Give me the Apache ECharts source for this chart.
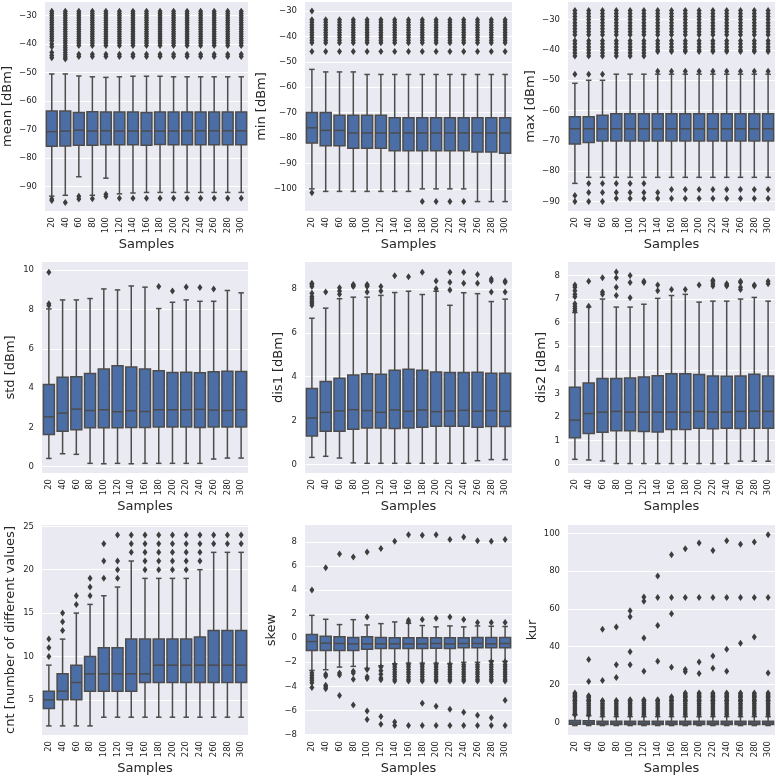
<!DOCTYPE html>
<html>
<head>
<meta charset="utf-8">
<script src="https://cdn.jsdelivr.net/npm/echarts@6/dist/echarts.min.js"></script>
<style>
html,body{margin:0;padding:0;background:#fff;}
#c{width:776px;height:776px;}
</style>
</head>
<body>
<div id="c"></div>
<script>
// ---------- categories ----------
const categories = ['20','40','60','80','100','120','140','160','180','200','220','240','260','280','300'];

// ---------- box stats: [lowerWhisker, Q1, median, Q3, upperWhisker] ----------
const meanBox = [
  [-93.3,-75.8,-70.7,-63.5,-50.5],[-93.0,-75.7,-70.5,-63.5,-50.5],[-86.5,-75.5,-70.2,-64.0,-51.2],
  [-93.0,-75.5,-70.5,-63.7,-51.5],[-87.0,-75.3,-70.4,-63.8,-51.7],[-92.5,-75.3,-70.5,-63.8,-51.5],
  [-92.2,-75.3,-70.5,-63.8,-51.3],[-92.0,-75.5,-70.5,-64.0,-51.3],[-92.0,-75.2,-70.5,-63.8,-51.3],
  [-92.0,-75.3,-70.5,-63.8,-51.5],[-92.0,-75.3,-70.4,-63.8,-51.5],[-92.0,-75.3,-70.4,-63.8,-51.5],
  [-92.0,-75.3,-70.4,-63.8,-51.5],[-92.0,-75.3,-70.4,-63.8,-51.5],[-92.0,-75.3,-70.4,-63.8,-51.5]
];
const minBox = [
  [-100,-82,-76,-70,-53],[-101,-83,-77,-70,-54],[-101,-83,-77,-71,-54],[-101,-84,-78,-71,-54],
  [-101,-84,-78,-71,-55],[-101,-84,-78,-71,-55],[-101,-85,-78,-72,-55],[-101,-85,-78,-72,-55],
  [-100,-85,-78,-72,-55],[-100,-85,-78,-72,-55],[-100,-85,-78,-72,-55],[-100,-85,-78,-72,-55],
  [-105,-85.5,-78,-72,-55],[-105,-85.5,-78,-72,-55],[-105,-86,-78,-72,-55]
];
const maxBox = [
  [-84,-71,-66,-62,-51],[-82,-70.5,-66,-62,-50],[-82,-70,-66,-61.5,-50],[-82,-70,-66,-61,-48],
  [-82,-70,-66,-61,-48],[-82,-70,-66,-61,-48],[-82,-70,-66,-61,-48],[-82,-70,-66,-61,-48],
  [-82,-70,-66,-61,-48],[-82,-70,-66,-61,-48],[-82,-70,-66,-61,-48],[-82,-70,-66,-61,-48],
  [-82,-70,-66,-61,-48],[-82,-70,-66,-61,-48],[-82,-70,-66,-61,-48]
];
const stdBox = [
  [0.42,1.64,2.54,4.19,8.03],[0.66,1.81,2.73,4.56,8.49],[0.63,1.88,2.93,4.58,8.49],[0.17,1.98,2.86,4.75,8.56],
  [0.15,1.98,2.90,4.97,9.05],[0.17,1.98,2.80,5.14,9.00],[0.15,2.00,2.85,5.07,9.20],[0.17,2.00,2.81,4.97,9.14],
  [0.17,2.02,2.90,4.88,8.05],[0.17,2.02,2.90,4.80,8.37],[0.17,2.02,2.90,4.81,8.49],[0.17,2.00,2.92,4.78,8.42],
  [0.39,2.02,2.88,4.83,8.42],[0.44,2.02,2.86,4.86,8.97],[0.44,2.02,2.90,4.85,8.85]
];
const dis1Box = [
  [0.33,1.30,2.12,3.47,6.66],[0.38,1.52,2.38,3.78,7.12],[0.30,1.52,2.45,3.93,7.55],[0.08,1.61,2.50,4.08,7.62],
  [0.06,1.67,2.46,4.13,7.62],[0.06,1.67,2.38,4.11,7.70],[0.06,1.64,2.49,4.29,7.83],[0.06,1.67,2.43,4.34,7.89],
  [0.06,1.70,2.49,4.29,7.74],[0.06,1.75,2.41,4.22,7.89],[0.06,1.75,2.44,4.19,7.25],[0.06,1.75,2.47,4.19,7.82],
  [0.18,1.70,2.43,4.20,7.78],[0.23,1.73,2.46,4.16,7.42],[0.23,1.73,2.43,4.16,7.53]
];
const dis2Box = [
  [0.21,1.12,1.87,3.26,6.43],[0.18,1.30,2.15,3.44,6.66],[0.14,1.36,2.21,3.63,7.00],[0.03,1.42,2.24,3.63,6.66],
  [0.03,1.42,2.21,3.65,6.66],[0.03,1.39,2.21,3.70,6.78],[0.03,1.37,2.21,3.75,7.03],[0.03,1.47,2.21,3.84,7.15],
  [0.03,1.47,2.21,3.84,7.20],[0.03,1.53,2.24,3.80,6.87],[0.03,1.50,2.21,3.74,6.91],[0.03,1.53,2.21,3.73,6.91],
  [0.13,1.52,2.24,3.74,7.00],[0.13,1.53,2.25,3.81,7.07],[0.13,1.53,2.24,3.74,6.91]
];
const cntBox = [
  [2,4,5,6,9],[2,5,6,8,12],[2,5,7,9,15],[2,6,8,10,16],[3,6,8,11,17],[3,6,8,11,18],[3,6,8,12,21],
  [3,7,8,12,19],[3,7,9,12,19],[3,7,9,12,19],[3,7,9,12,19],[3,7,9,12.25,20],[3,7,9,13,22],[3,7,9,13,22],[3,7,9,13,22]
];
const skewBox = [
  [-2.68,-1.02,-0.28,0.30,1.90],[-2.62,-1.02,-0.41,0.17,1.57],[-2.40,-1.02,-0.44,0.11,1.13],[-2.34,-1.02,-0.47,0.06,1.54],
  [-2.50,-0.91,-0.47,0.11,1.10],[-2.29,-0.86,-0.47,0.06,1.21],[-2.12,-0.86,-0.47,0.03,1.35],[-2.07,-0.86,-0.47,0.03,1.24],
  [-2.07,-0.86,-0.47,0.03,1.05],[-2.07,-0.83,-0.44,0.03,0.94],[-2.10,-0.86,-0.47,0.03,1.02],[-2.01,-0.80,-0.44,0.03,0.94],
  [-2.01,-0.80,-0.44,0.06,1.02],[-1.88,-0.80,-0.47,0.06,0.99],[-1.93,-0.80,-0.44,0.06,0.97]
];
const kurBox = [
  [-1.7,-1.0,-0.1,1.0,4.0],[-1.7,-1.0,-0.2,0.8,3.5],[-1.7,-1.1,-0.4,0.6,3.0],[-1.7,-1.1,-0.4,0.6,3.0],
  [-1.7,-1.1,-0.4,0.6,3.0],[-1.7,-1.1,-0.4,0.6,3.0],[-1.7,-1.1,-0.4,0.6,3.0],[-1.7,-1.1,-0.4,0.6,3.0],
  [-1.7,-1.1,-0.4,0.6,3.0],[-1.7,-1.1,-0.4,0.6,3.0],[-1.7,-1.1,-0.4,0.6,3.0],[-1.7,-1.1,-0.4,0.6,3.0],
  [-1.7,-1.1,-0.4,0.6,3.0],[-1.7,-1.1,-0.4,0.6,3.0],[-1.7,-1.1,-0.4,0.6,3.0]
];

// ---------- outliers (fliers) ----------
const meanTop20 = [-28.5,-29.3,-30.1,-30.9,-31.7,-32.5,-33.3,-34.1,-34.9,-35.7,-36.5,-37.3,-38.1,-38.9,-40.0,-41.0,-43.0,-44.0,-44.8];
const meanTop40 = [-28.5,-29.3,-30.1,-30.9,-31.7,-32.5,-33.3,-34.1,-34.9,-35.7,-36.5,-37.3,-38.1,-38.9,-39.7,-40.5,-41.3,-42.1,-43.0,-43.8,-44.6,-45.3];
const meanTop = [-28.5,-29.3,-30.1,-30.9,-31.7,-32.5,-33.3,-34.1,-34.9,-35.7,-36.5,-37.3,-38.1,-38.9,-39.7,-40.5,-43.6,-44.4];
const meanOut = [
  meanTop20.concat([-94.3,-94.8]), meanTop40.concat([-95.5]), meanTop.concat([-93.3,-94.3]), meanTop.concat([-94.2]),
  meanTop.concat([-92.6,-93.4]), meanTop.concat([-94.0]), meanTop.concat([-94.0]), meanTop.concat([-94.0]),
  meanTop.concat([-94.0]), meanTop.concat([-94.0]), meanTop.concat([-94.0]), meanTop.concat([-94.0]),
  meanTop.concat([-94.0]), meanTop.concat([-94.0]), meanTop.concat([-94.0])
];
const minTop = [-33.5,-34.5,-35.5,-36.5,-37.5,-38.5,-39.5,-40.5,-41.5,-42.5,-46.0];
const minOut = [
  [-30.0].concat(minTop,[-101.5]), minTop, minTop, minTop, minTop, minTop, minTop, minTop,
  minTop.concat([-105]), minTop.concat([-105]), minTop.concat([-105]), minTop.concat([-105]),
  minTop, minTop, minTop
];
const maxTopA = [-27,-28,-29,-30,-31,-32,-33,-34,-35,-37,-38,-39,-40,-41,-42];
const maxTopB = [-27,-28,-29,-30,-31,-32,-33,-34,-35,-37,-38,-39,-40,-40.5];
const maxOut = [
  maxTopA.concat([-48,-88,-90]), maxTopA.concat([-48,-84,-87,-90]), maxTopA.concat([-48,-84,-87,-90]),
  maxTopA.concat([-84,-87,-89]), maxTopA.concat([-84,-87,-89]), maxTopA.concat([-84,-87,-89]),
  maxTopB.concat([-47,-87,-89]), maxTopB.concat([-47,-86,-89]), maxTopB.concat([-47,-86,-89]),
  maxTopB.concat([-47,-86,-89]), maxTopB.concat([-47,-86,-89]), maxTopB.concat([-47,-86,-89]),
  maxTopB.concat([-47,-86,-89]), maxTopB.concat([-47,-86,-89]), maxTopB.concat([-47,-86,-89])
];
const stdOut = [[8.2,8.3,9.9],[],[],[],[],[],[],[],[9.17],[8.95],[9.15],[9.12],[9.05],[],[]];
const dis1Out = [
  [7.25,7.35,7.45,7.55,7.65,7.8,8.1,8.2,8.25],[7.85],[7.75,7.9,8.05],[8.1,8.15,8.2],[7.85,8.1,8.15,8.2],
  [7.9,8.1],[8.6],[8.55],[8.75],[8.0,8.35],[7.95,8.3,8.75],[8.25,8.75],[8.25,8.65],[7.85,8.35,8.45],[7.85,8.3,8.35]
];
const dis2Out = [
  [6.5,6.6,6.7,6.8,7.1,7.2,7.35,7.5,7.6],[6.7,7.75],[7.2,7.3,7.9],[7.15,7.5,7.9,8.15],[7.05,7.7,8.0],
  [7.7,7.75],[7.35,7.6],[7.4],[7.4],[7.6],[7.55,7.65,7.75,7.8],[7.55,7.6,7.65],[7.4,7.5,7.7,7.75],[7.55,7.6],[7.65,7.75]
];
const cntOut = [
  [10,11,12],[13,14,15],[16,17],[17,18,19],[19,21,23],[19,20,21,24],[22,23,24],[20,21,22,23,24],
  [20,21,22,23,24],[20,21,22,23,24],[20,21,22,23,24],[21,22,23,24],[23,24],[23,24],[23,24]
];
const skewDense = [-2.2,-2.4,-2.6,-2.8,-3.0,-3.2,-3.4,-3.55];
const skewDenseLow = [-1.95,-2.2,-2.4,-2.6,-2.8,-3.0,-3.2,-3.4,-3.55];
const skewOut = [
  [4.0,-2.9,-3.1,-3.3,-3.5,-3.7,-4.1],
  [5.85,-3.0,-3.15,-3.9,-4.05,-4.2],
  [7.0,-2.9,-3.05,-4.75],
  [6.75,-2.75,-2.9,-3.4,-5.55],
  [7.15,1.75,-2.6,-3.2,-3.35,-6.05,-6.75],
  [7.45,-2.4,-2.7,-3.0,-3.3,-3.45,-6.5,-7.15],
  [8.05,-6.95,-7.25].concat(skewDense),
  [8.6,1.5,1.35,-7.25].concat(skewDense),
  [8.55,1.55,-5.4,-7.25].concat(skewDense),
  [8.6,1.65,-5.65,-7.25].concat(skewDense),
  [8.2,1.75,-5.9,-7.25].concat(skewDense),
  [8.4,1.55,-6.15,-7.25].concat(skewDense),
  [8.1,1.3,-6.4,-7.25].concat(skewDense),
  [8.05,1.3,-6.6,-7.25].concat(skewDenseLow),
  [8.2,1.3,-5.15,-7.25].concat(skewDenseLow)
];
const kurDense = [4,5,6,7,8,9,10,11,11.5,12,13,13.5,14,15,15.5];
const kurDenseMax = [15.5,14,11.5,11.5,12,12,12,13.5,15.5,15.5,15.5,15.5,15.5,15.5,15.5];
const kurFar = [
  [],[33.3,21.6],[49.3,22.1],[50.5,30.5,23.7],[59.1,55.8,37.4,30.5],[66.3,64.0,44.6,27.0],
  [77.4,66.0,51.2,32.3],[88.6,66.0,57.4,29.1],[91.8,66.0,28.0,26.8],[94.9,66.0,31.9,25.8],
  [90.9,66.0,35.1,28.6],[96.1,66.0,38.6,27.0],[94.2,66.0,41.9],[95.4,66.0,45.1],[99.3,66.0,26.1]
];
const kurOut = kurFar.map((far, i) => kurDense.filter(v => v <= kurDenseMax[i]).concat(far));

// ---------- y-axis ticks ----------
const meanTicks = [-90,-80,-70,-60,-50,-40,-30];
const minTicks = [-100,-90,-80,-70,-60,-50,-40,-30];
const maxTicks = [-90,-80,-70,-60,-50,-40,-30];
const stdTicks = [0,2,4,6,8,10];
const dis1Ticks = [0,2,4,6,8];
const dis2Ticks = [0,1,2,3,4,5,6,7,8];
const cntTicks = [5,10,15,20,25];
const skewTicks = [-8,-6,-4,-2,0,2,4,6,8];
const kurTicks = [0,20,40,60,80,100];

const panels = [
  {name:'mean [dBm]', box:meanBox, out:meanOut, ticks:meanTicks, min:-98.5, max:-25.3, gap:31},
  {name:'min [dBm]', box:minBox, out:minOut, ticks:minTicks, min:-108.7, max:-26.5, gap:37},
  {name:'max [dBm]', box:maxBox, out:maxOut, ticks:maxTicks, min:-93.1, max:-24.2, gap:31},
  {name:'std [dBm]', box:stdBox, out:stdOut, ticks:stdTicks, min:-0.32, max:10.42, gap:25},
  {name:'dis1 [dBm]', box:dis1Box, out:dis1Out, ticks:dis1Ticks, min:-0.38, max:9.22, gap:20},
  {name:'dis2 [dBm]', box:dis2Box, out:dis2Out, ticks:dis2Ticks, min:-0.37, max:8.57, gap:20},
  {name:'cnt [number of different values]', box:cntBox, out:cntOut, ticks:cntTicks, min:0.95, max:25.15, gap:25},
  {name:'skew', box:skewBox, out:skewOut, ticks:skewTicks, min:-8.04, max:9.4, gap:27},
  {name:'kur', box:kurBox, out:kurOut, ticks:kurTicks, min:-6.7, max:104.4, gap:29}
];

const colLeft = [42, 305, 568];
const colWidth = [206, 207, 207];
const rowTop = [2, 262, 525];
const rowHeight = [209, 211, 211];

const FONT = 'DejaVu Sans';
const BOX = '#4c6ea7';
const EDGE = '#4c4c4c';
const TXT = '#262626';

function fmt(v) { return v < 0 ? '\u2212' + Math.abs(v) : String(v); }

function renderBox(params, api) {
  const i = api.value(0);
  const lo = api.coord([i, api.value(1)]);
  const q1 = api.coord([i, api.value(2)]);
  const md = api.coord([i, api.value(3)]);
  const q3 = api.coord([i, api.value(4)]);
  const hi = api.coord([i, api.value(5)]);
  const band = api.size([1, 0])[0];
  const w = band * 0.8;
  const cx = lo[0];
  const ls = {stroke: EDGE, lineWidth: 1.5};
  return {
    type: 'group',
    children: [
      {type:'line', shape:{x1:cx, y1:hi[1], x2:cx, y2:q3[1]}, style:ls},
      {type:'line', shape:{x1:cx, y1:q1[1], x2:cx, y2:lo[1]}, style:ls},
      {type:'line', shape:{x1:cx - w/4, y1:hi[1], x2:cx + w/4, y2:hi[1]}, style:ls},
      {type:'line', shape:{x1:cx - w/4, y1:lo[1], x2:cx + w/4, y2:lo[1]}, style:ls},
      {type:'rect', shape:{x:cx - w/2, y:q3[1], width:w, height:q1[1] - q3[1]}, style:{fill:BOX, stroke:EDGE, lineWidth:1.5}},
      {type:'line', shape:{x1:cx - w/2, y1:md[1], x2:cx + w/2, y2:md[1]}, style:ls}
    ]
  };
}

const grid = [], xAxis = [], yAxis = [], series = [];
panels.forEach((p, k) => {
  const r = Math.floor(k / 3), c = k % 3;
  grid.push({left: colLeft[c], top: rowTop[r], width: colWidth[c], height: rowHeight[r],
    show: true, backgroundColor: '#eaeaf2', borderWidth: 0, containLabel: false});
  xAxis.push({
    type: 'category', gridIndex: k, data: categories, boundaryGap: true,
    name: 'Samples', nameLocation: 'middle', nameGap: 27,
    nameTextStyle: {fontFamily: FONT, fontSize: 13, color: TXT},
    axisLine: {show: false}, axisTick: {show: false}, splitLine: {show: false},
    axisLabel: {interval: 0, rotate: 90, fontFamily: FONT, fontSize: 8.5, color: TXT, margin: 6}
  });
  yAxis.push({
    type: 'value', gridIndex: k, min: p.min, max: p.max,
    name: p.name, nameLocation: 'middle', nameGap: p.gap,
    nameTextStyle: {fontFamily: FONT, fontSize: 13, color: TXT},
    axisLine: {show: false},
    axisTick: {show: false, customValues: p.ticks},
    axisLabel: {customValues: p.ticks, formatter: fmt, fontFamily: FONT, fontSize: 8.5, color: TXT, margin: 8},
    splitLine: {show: true, lineStyle: {color: '#ffffff', width: 1}}
  });
  series.push({
    type: 'custom', xAxisIndex: k, yAxisIndex: k, renderItem: renderBox,
    encode: {x: 0, y: [1, 2, 3, 4, 5]},
    data: p.box.map((b, i) => [i].concat(b)), z: 2
  });
  const pts = [];
  p.out.forEach((arr, i) => arr.forEach(v => pts.push([i, v])));
  series.push({
    type: 'scatter', xAxisIndex: k, yAxisIndex: k, data: pts,
    symbol: 'diamond', symbolSize: [5, 7],
    itemStyle: {color: '#3d3d3d', opacity: 1}, z: 3, silent: true
  });
});

const chart = echarts.init(document.getElementById('c'), null, {renderer: 'canvas'});
chart.setOption({animation: false, backgroundColor: '#ffffff', grid, xAxis, yAxis, series});
</script>
</body>
</html>
